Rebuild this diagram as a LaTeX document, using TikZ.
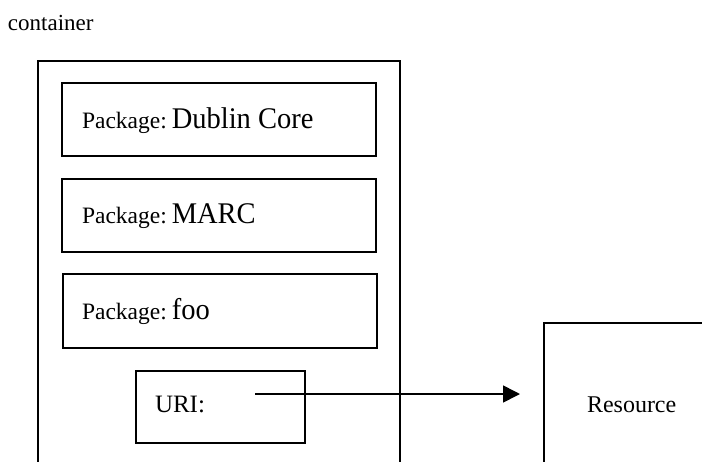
\documentclass[tikz,border=0pt]{standalone}
\usepackage{fontspec}
\setmainfont{Liberation Serif}
\newfontfamily\condserif[FakeStretch=0.95]{Liberation Serif}
\usetikzlibrary{arrows.meta}
\newcommand{\smallpk}{\fontsize{23.5}{23.5}\selectfont}
\newcommand{\bigpk}{\condserif\fontsize{30}{30}\selectfont}
\tikzset{
  boxnode/.style={draw, line width=1.5pt, rectangle, inner sep=0pt, anchor=north west},
  txt/.style={anchor=base west, inner sep=0pt, outer sep=0pt},
  conn/.style={line width=1.6pt, -{Triangle[length=17pt,width=17pt]}}
}
\begin{document}
\begin{tikzpicture}[x=1pt,y=-1pt]
\useasboundingbox (0,0) rectangle (702,461);
\clip (0,0) rectangle (702,461);
% container label
\node[txt] (contlabel) at (8,30) {\fontsize{23}{23}\selectfont container};
% outer container box (bottom cut off)
\node[boxnode, minimum width=362pt, minimum height=460pt] (container) at (37,60) {};
% packages
\node[boxnode, minimum width=314pt, minimum height=73pt] (dc) at (61,82) {};
\node[txt] (dctext) at (82,128) {\smallpk Package:\hspace{5pt}\bigpk Dublin Core};
\node[boxnode, minimum width=314pt, minimum height=73pt] (marc) at (61,178) {};
\node[txt] (marctext) at (82,223) {\smallpk Package:\hspace{5pt}\bigpk MARC};
\node[boxnode, minimum width=314pt, minimum height=74pt] (foo) at (62,273) {};
\node[txt] (footext) at (82,319) {\smallpk Package:\hspace{5pt}\bigpk foo};
% URI box
\node[boxnode, minimum width=169pt, minimum height=72pt] (uri) at (135,370) {};
\node[txt] (uritext) at (155,412) {\fontsize{25}{25}\selectfont URI:};
% Resource box (cut off right and bottom)
\node[boxnode, minimum width=220pt, minimum height=200pt] (res) at (543,322) {};
\node[txt] (restext) at (587,412) {\fontsize{24}{24}\selectfont Resource};
% arrow
\coordinate (astart) at (255,394);
\coordinate (aend) at (520,394);
\draw[conn] (astart) -- (aend);
\end{tikzpicture}
\end{document}
